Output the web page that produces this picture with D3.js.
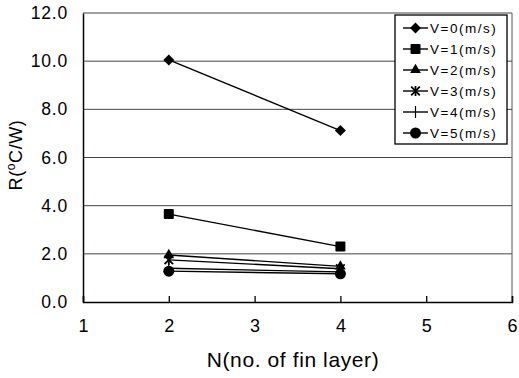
<html>
<head>
<script src="https://cdn.jsdelivr.net/npm/d3@7"></script>
<style>
body { margin:0; background:#fff; }
text { font-family: "Liberation Sans", Arial, sans-serif; fill:#000; }
</style>
</head>
<body>
<script>
// data
let layers = [2, 4]
let seriesNames = ["V=0(m/s)","V=1(m/s)","V=2(m/s)","V=3(m/s)","V=4(m/s)","V=5(m/s)"]
let v0 = [10.05, 7.12]
let v1 = [3.65, 2.3]
let v2 = [1.95, 1.48]
let v3 = [1.75, 1.38]
let v4 = [1.4, 1.25]
let v5 = [1.28, 1.17]
let yTicks = [0, 2, 4, 6, 8, 10, 12]
let xTicks = [1, 2, 3, 4, 5, 6]
let symbols = ["diamond","square","triangle","star","plus","circle"]

let w = 519, h = 378
let svg = d3.select("body").append("svg").attr("width", w).attr("height", h)

let x = d3.scaleLinear().domain([1, 6]).range([83, 512])
let y = d3.scaleLinear().domain([0, 12]).range([302, 13])

// grid
svg.selectAll("line.grid").data(yTicks.filter(d => d > 0)).enter()
    .append("line")
    .attr("x1", x(1)).attr("x2", x(6))
    .attr("y1", d => y(d)).attr("y2", d => y(d))
    .attr("stroke", "#444").attr("stroke-width", 1)
// right frame
svg.append("line").attr("x1", x(6)).attr("x2", x(6)).attr("y1", y(12)).attr("y2", y(0))
    .attr("stroke", "#555").attr("stroke-width", 1)

// axes
let yAxis = d3.axisLeft(y).tickValues(yTicks).tickFormat(d3.format(".1f")).tickSize(0).tickPadding(15)
let gy = svg.append("g").attr("transform", "translate(" + x(1) + ",0)").call(yAxis)
gy.select(".domain").attr("stroke", "#000").attr("stroke-width", 1.5)
gy.selectAll("text").style("font-size", "17.5px").style("letter-spacing", "0.8px")
    .attr("font-family", "Liberation Sans, Arial, sans-serif")

let xAxis = d3.axisBottom(x).tickValues(xTicks).tickSize(-6).tickFormat(d3.format("d"))
let gx = svg.append("g").attr("transform", "translate(0," + y(0) + ")").call(xAxis)
gx.select(".domain").attr("stroke", "#000").attr("stroke-width", 1.5)
gx.selectAll("line").attr("stroke", "#000").attr("stroke-width", 1.3)
gx.selectAll("text").attr("y", 30).attr("dy", 0).style("font-size", "18px")
    .attr("font-family", "Liberation Sans, Arial, sans-serif")

// axis titles
svg.append("text").attr("x", 293).attr("y", 367).attr("text-anchor", "middle")
    .style("font-size", "21px").style("letter-spacing", "0.6px").text("N(no. of fin layer)")
let yt = svg.append("text").attr("transform", "translate(22,155) rotate(-90)")
    .attr("text-anchor", "middle").style("font-size", "18px").style("letter-spacing", "0.6px")
yt.append("tspan").text("R(")
yt.append("tspan").attr("dy", -7).style("font-size", "12px").text("o")
yt.append("tspan").attr("dy", 7).text("C/W)")

// markers
function drawMarker(g, type, cx, cy) {
    if (type == "diamond") {
        g.append("path").attr("d", "M0,-5.5L5.5,0L0,5.5L-5.5,0Z").attr("transform", "translate(" + cx + "," + cy + ")")
    } else if (type == "square") {
        g.append("rect").attr("x", cx - 5).attr("y", cy - 5).attr("width", 10).attr("height", 10).attr("rx", 1)
    } else if (type == "triangle") {
        g.append("path").attr("d", d3.symbol(d3.symbolTriangle, 50)()).attr("transform", "translate(" + cx + "," + cy + ")")
    } else if (type == "star") {
        g.append("path").attr("d", d3.symbol(d3.symbolX, 50)()).attr("transform", "translate(" + cx + "," + cy + ")")
            .attr("fill", "none").attr("stroke", "#000").attr("stroke-width", 1.8)
        g.append("line").attr("x1", cx).attr("x2", cx).attr("y1", cy - 5).attr("y2", cy + 5).attr("stroke", "#000").attr("stroke-width", 1.8)
    } else if (type == "plus") {
        g.append("line").attr("x1", cx).attr("x2", cx).attr("y1", cy - 6).attr("y2", cy + 6).attr("stroke", "#000").attr("stroke-width", 1.2)
    } else if (type == "circle") {
        g.append("circle").attr("cx", cx).attr("cy", cy).attr("r", 5.5)
    }
}

let allSeries = [v0, v1, v2, v3, v4, v5]
let line = d3.line().x((d, i) => x(layers[i])).y(d => y(d))
allSeries.forEach((s, k) => {
    let g = svg.append("g").attr("fill", "#000")
    g.append("path").attr("d", line(s)).attr("fill", "none").attr("stroke", "#000").attr("stroke-width", 1.4)
    s.forEach((d, i) => drawMarker(g, symbols[k], x(layers[i]), y(d)))
})

// legend
let lg = svg.append("g")
lg.append("rect").attr("x", 395).attr("y", 15).attr("width", 112).attr("height", 129)
    .attr("fill", "#fff").attr("stroke", "#000").attr("stroke-width", 1.3)
seriesNames.forEach((name, k) => {
    let ly = 28 + k * 21
    let g = lg.append("g").attr("fill", "#000")
    g.append("line").attr("x1", 403).attr("x2", 428).attr("y1", ly).attr("y2", ly).attr("stroke", "#000").attr("stroke-width", 1.4)
    drawMarker(g, symbols[k], 415.5, ly)
    lg.append("text").attr("x", 430).attr("y", ly + 5).style("font-size", "13.5px")
        .style("letter-spacing", "1.5px").text(name)
})
</script>
</body>
</html>
